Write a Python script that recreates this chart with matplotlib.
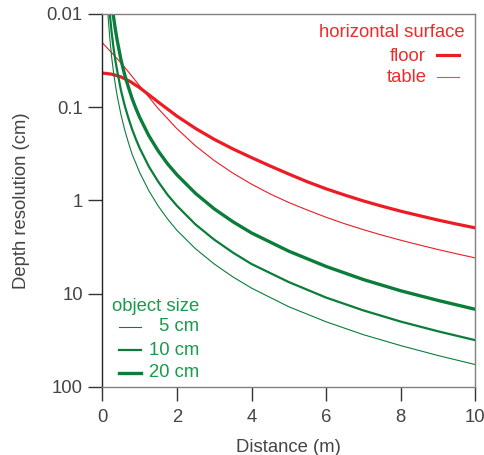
import matplotlib
matplotlib.use("Agg")
import matplotlib.pyplot as plt
from matplotlib.ticker import FixedLocator, NullLocator

plt.rcParams['font.family'] = ['Liberation Sans', 'DejaVu Sans']

# horizontal surface curves (depth resolution, cm)
x_red = [0, 0.25, 0.5, 0.75, 1, 1.5, 2, 2.5, 3, 3.5, 4, 4.5, 5, 5.5, 6, 6.5, 7, 7.5, 8, 8.5, 9, 9.5, 10]
floor = [0.043, 0.0442, 0.0473, 0.0531, 0.0617, 0.0881, 0.1245, 0.169, 0.221, 0.280, 0.347, 0.427,
         0.521, 0.631, 0.750, 0.875, 1.012, 1.153, 1.303, 1.455, 1.622, 1.791, 1.968]
table = [0.0204, 0.026, 0.0335, 0.0442, 0.0589, 0.1035, 0.170, 0.260, 0.373, 0.509, 0.668, 0.851,
         1.052, 1.268, 1.514, 1.778, 2.056, 2.355, 2.667, 3.0, 3.357, 3.733, 4.13]

# object size curves
x_green = [0.15, 0.2, 0.25, 0.3, 0.35, 0.4, 0.5, 0.6, 0.7, 0.8, 0.9, 1, 1.25, 1.5, 1.75, 2,
           2.5, 3, 3.5, 4, 5, 6, 7, 8, 9, 10]
size5 = [0.0101, 0.018, 0.029, 0.042, 0.0575, 0.076, 0.12, 0.175, 0.24, 0.32, 0.40, 0.5, 0.79,
         1.15, 1.58, 2.09, 3.3, 4.8, 6.6, 8.7, 13.8, 20, 27.5, 36, 46, 57.5]
size10 = [0.0055, 0.0099, 0.0158, 0.023, 0.0315, 0.041, 0.066, 0.096, 0.131, 0.173, 0.22, 0.274,
          0.434, 0.63, 0.87, 1.14, 1.81, 2.63, 3.62, 4.8, 7.5, 11.0, 15.1, 19.9, 25.3, 31.5]
size20 = [0.0026, 0.0046, 0.0074, 0.0107, 0.0147, 0.0193, 0.031, 0.045, 0.061, 0.081, 0.103, 0.128,
          0.203, 0.295, 0.405, 0.53, 0.84, 1.23, 1.69, 2.23, 3.5, 5.1, 7.05, 9.3, 11.8, 14.7]

yticks = [0.01, 0.1, 1, 10, 100]
ytick_labels = ['0.01', '0.1', '1', '10', '100']
xticks = [0, 2, 4, 6, 8, 10]

red = '#ec1c24'
red_txt = '#ee2b2b'
green = '#0b7d3b'
green_txt = '#1a9a4c'
txt = '#444444'
fs = 13.3

fig = plt.figure(figsize=(4.84, 4.55), dpi=100)
ax = fig.add_axes([0.2114, 0.1495, 0.7707, 0.8198])

ax.plot(x_red, floor, color=red, lw=2.3)
ax.plot(x_red, table, color=red, lw=0.8)
ax.plot(x_green, size5, color=green, lw=0.8)
ax.plot(x_green, size10, color=green, lw=1.6)
ax.plot(x_green, size20, color=green, lw=2.4)

ax.set_yscale('log')
ax.set_ylim(100, 0.01)
ax.set_xlim(0, 10)
ax.yaxis.set_major_locator(FixedLocator(yticks))
ax.yaxis.set_minor_locator(NullLocator())
ax.set_yticklabels(ytick_labels)
ax.set_xticks(xticks)
ax.set_xticklabels([str(v) for v in xticks])

ax.spines['left'].set_color('#222222')
for s in ['top', 'right', 'bottom']:
    ax.spines[s].set_color('#808080')
for s in ax.spines.values():
    s.set_linewidth(1.0)
ax.tick_params(direction='out', length=10, width=1.0, color='#333333',
               labelsize=fs, labelcolor=txt)
ax.tick_params(axis='y', pad=4)
ax.tick_params(axis='x', pad=6)

ax.set_xlabel('Distance (m)', fontsize=fs, color=txt, labelpad=9)
ax.set_ylabel('Depth resolution (cm)', fontsize=fs, color=txt, labelpad=12)

# legend: horizontal surface
ax.text(0.972, 0.949, 'horizontal surface', transform=ax.transAxes, ha='right', va='center',
        fontsize=fs, color=red_txt)
ax.text(0.868, 0.887, 'floor', transform=ax.transAxes, ha='right', va='center',
        fontsize=fs, color=red_txt)
ax.text(0.870, 0.831, 'table', transform=ax.transAxes, ha='right', va='center',
        fontsize=fs, color=red_txt)
ax.plot([0.897, 0.956], [0.889, 0.889], transform=ax.transAxes, color=red, lw=2.3)
ax.plot([0.897, 0.956], [0.831, 0.831], transform=ax.transAxes, color=red, lw=0.8, alpha=0.8)

# legend: object size
ax.text(0.026, 0.217, 'object size', transform=ax.transAxes, ha='left', va='center',
        fontsize=fs, color=green_txt)
for yy, lab, lw in [(0.161, '5 cm', 0.8), (0.099, '10 cm', 1.6), (0.038, '20 cm', 2.4)]:
    ax.text(0.260, yy, lab, transform=ax.transAxes, ha='right', va='center',
            fontsize=fs, color=green_txt)
    ax.plot([0.045, 0.104], [yy, yy], transform=ax.transAxes, color=green, lw=lw)

fig.savefig('out.png', dpi=100)
